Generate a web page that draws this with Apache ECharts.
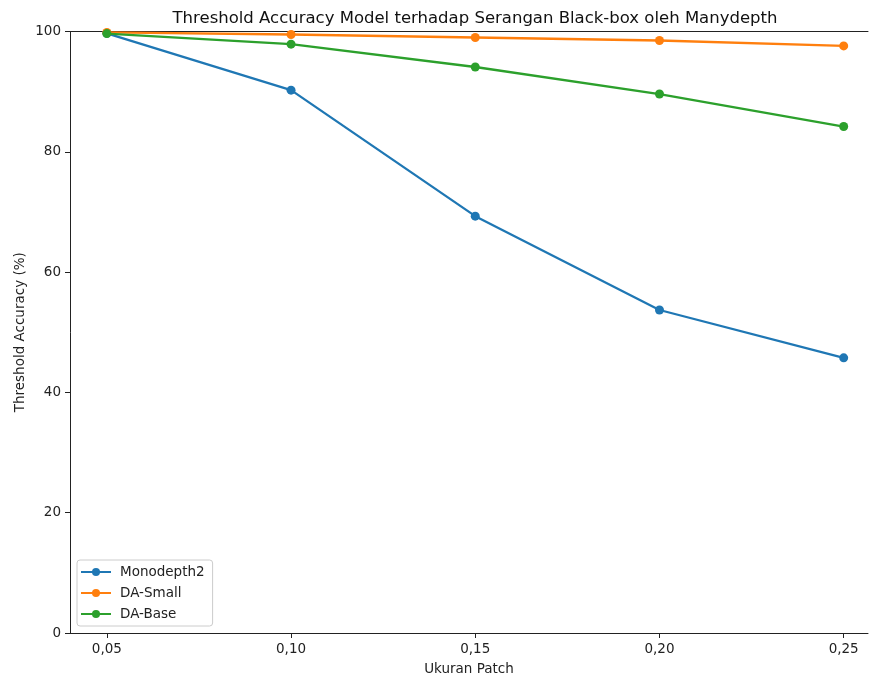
<!DOCTYPE html>
<html>
<head>
<meta charset="utf-8">
<script src="https://cdn.jsdelivr.net/npm/echarts@6/dist/echarts.min.js"></script>
<style>
  html, body { margin: 0; padding: 0; background: #fff; }
  #chart { width: 869px; height: 676px; }
</style>
</head>
<body>
<div id="chart"></div>
<script>
// Patch sizes (x) and threshold accuracy (%) for each model
const patchSizes = [0.05, 0.10, 0.15, 0.20, 0.25];
const monodepth2 = [99.7, 90.25, 69.3, 53.7, 45.75];
const daSmall = [99.85, 99.5, 99.0, 98.5, 97.6];
const daBase = [99.65, 97.9, 94.1, 89.6, 84.2];
const yTicks = [0, 20, 40, 60, 80, 100];

const seriesNames = ['Monodepth2', 'DA-Small', 'DA-Base'];
const seriesValues = [monodepth2, daSmall, daBase];
const colors = ['#1f77b4', '#ff7f0e', '#2ca02c'];

const font = 'DejaVu Sans';
const axisColor = '#222';

const chart = echarts.init(document.getElementById('chart'), null, { renderer: 'canvas' });

const fmt = v => v.toFixed(2).replace('.', ',');

chart.setOption({
  animation: false,
  backgroundColor: '#fff',
  color: colors,
  title: {
    text: 'Threshold Accuracy Model terhadap Serangan Black-box oleh Manydepth',
    left: 470, top: 5, textAlign: 'center',
    textStyle: { fontFamily: font, fontSize: 16.5, fontWeight: 'normal', color: '#111' }
  },
  grid: { left: 70, right: 1, top: 31.5, bottom: 43, containLabel: false, outerBoundsMode: 'none' },
  legend: {
    orient: 'vertical',
    left: 77, top: 560,
    padding: [5, 8, 5, 3],
    itemGap: 7,
    itemWidth: 30, itemHeight: 10,
    borderColor: '#ccc', borderWidth: 1, borderRadius: 3,
    backgroundColor: 'rgba(255,255,255,0.8)',
    textStyle: { fontFamily: font, fontSize: 13.5, color: '#222', padding: [0, 0, 0, 4] },
    data: seriesNames
  },
  xAxis: [{
    type: 'value',
    min: 0.04, max: 0.2566,
    name: 'Ukuran Patch', nameLocation: 'middle', nameGap: 29,
    nameTextStyle: { fontFamily: font, fontSize: 13.5, color: '#222' },
    axisLine: { show: true, onZero: false, lineStyle: { color: axisColor, width: 1 } },
    axisTick: { show: true, length: 5, lineStyle: { color: axisColor }, customValues: patchSizes },
    axisLabel: { fontFamily: font, fontSize: 13.5, color: '#222', margin: 9, formatter: fmt, customValues: patchSizes },
    splitLine: { show: false }
  }, {
    type: 'value', position: 'top',
    min: 0.04, max: 0.2566,
    axisLine: { show: true, onZero: false, lineStyle: { color: axisColor, width: 1 } },
    axisTick: { show: false }, axisLabel: { show: false }, splitLine: { show: false }
  }],
  yAxis: {
    type: 'value',
    min: 0, max: 100, interval: 20,
    name: 'Threshold Accuracy (%)', nameLocation: 'middle', nameGap: 43,
    nameMoveOverlap: false,
    nameTextStyle: { fontFamily: font, fontSize: 13.5, color: '#222' },
    axisLine: { show: true, onZero: false, lineStyle: { color: axisColor, width: 1 } },
    axisTick: { show: true, length: 5, lineStyle: { color: axisColor } },
    axisLabel: { fontFamily: font, fontSize: 13.5, color: '#222', margin: 9,
      customValues: yTicks },
    splitLine: { show: false }
  },
  series: seriesNames.map((name, i) => ({
    name,
    type: 'line',
    xAxisIndex: 0,
    data: patchSizes.map((x, j) => [x, seriesValues[i][j]]),
    symbol: 'circle',
    symbolSize: 9,
    lineStyle: { width: 2.3, color: colors[i] },
    itemStyle: { color: colors[i] },
    clip: false,
    z: 2 + i
  }))
});
</script>
</body>
</html>
